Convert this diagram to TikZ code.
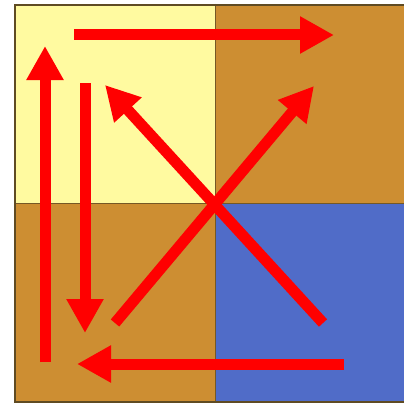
\documentclass[tikz,border=0pt]{standalone}
\usetikzlibrary{arrows.meta}
\definecolor{paleyellow}{RGB}{255,250,160}
\definecolor{ochre}{RGB}{205,142,50}
\definecolor{bluequad}{RGB}{80,108,200}
\definecolor{frame}{RGB}{95,75,35}
\tikzset{
  bigarrow/.style={draw=red, line width=11pt, -{Triangle[length=34pt,width=35pt]}},
  divider/.style={draw=frame!80!ochre, line width=1pt}
}
\begin{document}
\begin{tikzpicture}[x=1pt,y=-1pt]
\useasboundingbox (0,0) rectangle (404,404);
\fill[white] (0,0) rectangle (404,404);
\begin{scope}
\clip (0,0) rectangle (404,404);
\fill[paleyellow] (14,4) rectangle (215,203);
\fill[ochre] (215,4) rectangle (420,203);
\fill[ochre] (14,203) rectangle (215,403);
\fill[bluequad] (215,203) rectangle (420,403);
\draw[divider] (215,4) -- (215,403);
\draw[divider] (14,203) -- (420,203);
\draw[frame, line width=1.6pt] (420,4.8) -- (14.8,4.8) -- (14.8,402) -- (420,402);
\end{scope}
\coordinate (a1s) at (45,362); \coordinate (a1e) at (45,46);
\coordinate (a2s) at (74,35);  \coordinate (a2e) at (334,35);
\coordinate (a3s) at (85,83);  \coordinate (a3e) at (85,333);
\coordinate (a4s) at (344,364); \coordinate (a4e) at (77,364);
\coordinate (a5s) at (323,323); \coordinate (a5e) at (105,85);
\coordinate (a6s) at (115,323); \coordinate (a6e) at (314,86);
\draw[bigarrow] (a1s) -- (a1e);
\draw[bigarrow] (a2s) -- (a2e);
\draw[bigarrow] (a3s) -- (a3e);
\draw[bigarrow] (a4s) -- (a4e);
\draw[bigarrow] (a5s) -- (a5e);
\draw[bigarrow] (a6s) -- (a6e);
\end{tikzpicture}
\end{document}
